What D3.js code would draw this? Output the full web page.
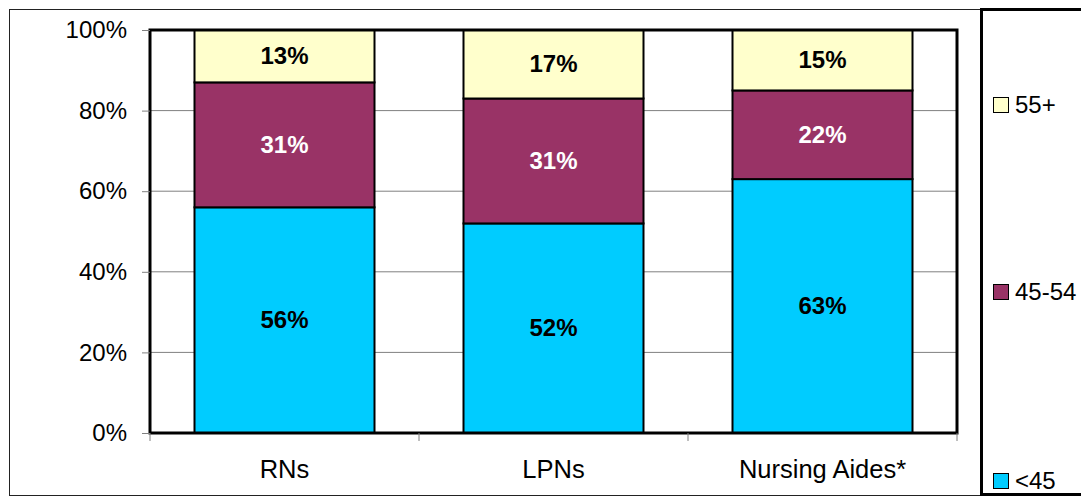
<!DOCTYPE html>
<html>
<head>
	<meta charset="utf-8" />
	<title>Age distribution by occupation</title>
	<script src="https://d3js.org/d3.v7.min.js"></script>
</head>
<style>
	body { margin: 0; background: #fff; font-family: 'Liberation Sans', Arial, sans-serif; }
	text { font-family: 'Liberation Sans', Arial, sans-serif; }
	.grid line { stroke: #808080; stroke-width: 1px; }
	.bar { stroke: #000; stroke-width: 2px; }
</style>
<body>
<script>
	// categories and series (percent)
	var categories = ["RNs", "LPNs", "Nursing Aides*"];
	var under45 = [56, 52, 63];
	var age45to54 = [31, 31, 22];
	var age55plus = [13, 17, 15];
	var yTicks = [0, 20, 40, 60, 80, 100];

	var seriesNames = ["<45", "45-54", "55+"];
	var seriesColors = ["#00ccff", "#993366", "#ffffcc"];
	var labelColors = ["#000", "#fff", "#000"];

	var width = 1081, height = 497;
	var plot = { left: 150, top: 30, right: 957, bottom: 433 };
	var fontSize = 24;

	var svg = d3.select("body").append("svg")
		.attr("width", width)
		.attr("height", height);

	// outer chart frame
	svg.append("rect")
		.attr("x", 9.5).attr("y", 9.5)
		.attr("width", 1100).attr("height", 486)
		.attr("fill", "none").attr("stroke", "#222").attr("stroke-width", 1);

	var x = d3.scaleBand().domain(categories).range([plot.left, plot.right]).paddingInner(0).paddingOuter(0);
	var y = d3.scaleLinear().domain([0, 100]).range([plot.bottom, plot.top]);

	// gridlines
	svg.append("g").attr("class", "grid")
		.selectAll("line").data(yTicks.filter(function(d) { return d > 0 && d < 100; }))
		.enter().append("line")
		.attr("x1", plot.left).attr("x2", plot.right)
		.attr("y1", function(d) { return y(d); })
		.attr("y2", function(d) { return y(d); });

	// stack data
	var table = categories.map(function(c, i) {
		return { cat: c, "<45": under45[i], "45-54": age45to54[i], "55+": age55plus[i] };
	});
	var stack = d3.stack().keys(seriesNames)(table);

	var barW = 180;
	stack.forEach(function(layer, k) {
		svg.append("g").selectAll("rect")
			.data(layer).enter().append("rect")
			.attr("class", "bar")
			.attr("x", function(d) { return x(d.data.cat) + (x.bandwidth() - barW) / 2; })
			.attr("width", barW)
			.attr("y", function(d) { return y(d[1]); })
			.attr("height", function(d) { return y(d[0]) - y(d[1]); })
			.attr("fill", seriesColors[k]);
	});

	// value labels
	stack.forEach(function(layer, k) {
		svg.append("g").selectAll("text")
			.data(layer).enter().append("text")
			.attr("x", function(d) { return x(d.data.cat) + x.bandwidth() / 2; })
			.attr("y", function(d) { return (y(d[0]) + y(d[1])) / 2 + 8; })
			.attr("text-anchor", "middle")
			.attr("font-size", fontSize)
			.attr("font-weight", "bold")
			.attr("fill", labelColors[k])
			.text(function(d) { return (d[1] - d[0]) + "%"; });
	});

	// plot area frame
	svg.append("rect")
		.attr("x", plot.left).attr("y", plot.top)
		.attr("width", plot.right - plot.left).attr("height", plot.bottom - plot.top)
		.attr("fill", "none").attr("stroke", "#000").attr("stroke-width", 3);

	// y axis
	var yAxis = svg.append("g")
		.attr("transform", "translate(" + plot.left + ",0)")
		.call(d3.axisLeft(y).tickValues(yTicks).tickSize(8).tickPadding(15)
			.tickFormat(function(d) { return d + "%"; }));
	yAxis.select(".domain").remove();
	yAxis.selectAll(".tick line").attr("stroke", "#808080");
	yAxis.selectAll("text").attr("font-size", fontSize).attr("fill", "#000")
		.attr("font-family", "'Liberation Sans', Arial, sans-serif");

	// x axis
	var xAxis = svg.append("g")
		.attr("transform", "translate(0," + plot.bottom + ")")
		.call(d3.axisBottom(x).tickSize(0).tickPadding(27));
	xAxis.select(".domain").remove();
	xAxis.selectAll("text").attr("font-size", 25.5).attr("fill", "#000")
		.attr("font-family", "'Liberation Sans', Arial, sans-serif");
	// category separator ticks
	var sepTicks = categories.map(function(c) { return x(c); }).concat([plot.right]);
	svg.append("g").selectAll("line").data(sepTicks).enter().append("line")
		.attr("x1", function(d) { return d; }).attr("x2", function(d) { return d; })
		.attr("y1", plot.bottom).attr("y2", plot.bottom + 8)
		.attr("stroke", "#808080");

	// legend box
	svg.append("rect")
		.attr("x", 981.5).attr("y", 9.5)
		.attr("width", 120).attr("height", 485)
		.attr("fill", "#fff").attr("stroke", "#000").attr("stroke-width", 3);

	var legendY = { "55+": 105, "45-54": 292, "<45": 481 };
	var legend = svg.append("g").selectAll("g")
		.data(seriesNames).enter().append("g")
		.attr("transform", function(d) { return "translate(993," + legendY[d] + ")"; });
	legend.append("rect")
		.attr("x", 0.5).attr("y", -7.5)
		.attr("width", 15).attr("height", 15)
		.attr("fill", function(d, i) { return seriesColors[i]; })
		.attr("stroke", "#000").attr("stroke-width", 1);
	legend.append("text")
		.attr("x", 22).attr("y", 8)
		.attr("font-size", fontSize)
		.text(function(d) { return d; });
</script>
</body>
</html>
